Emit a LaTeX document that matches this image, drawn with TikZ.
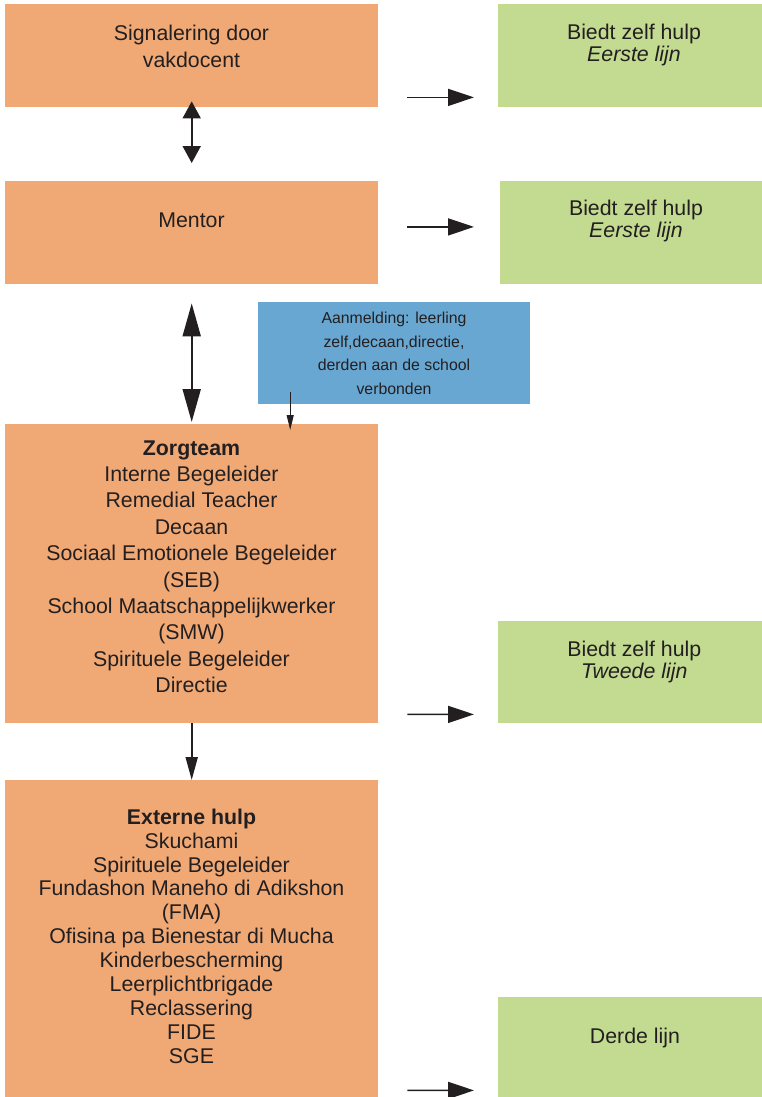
\documentclass[tikz,border=0pt]{standalone}
\usepackage{fontspec}
\setmainfont{Liberation Sans}
\usetikzlibrary{arrows.meta}
\definecolor{zorgoranje}{RGB}{240,169,117}
\definecolor{hulpgroen}{RGB}{195,219,145}
\definecolor{meldblauw}{RGB}{105,167,211}
\definecolor{tekst}{RGB}{35,31,32}

\begin{document}
\begin{tikzpicture}[x=1bp,y=-1bp,
  obox/.style={fill=zorgoranje,inner sep=0,anchor=north west},
  gbox/.style={fill=hulpgroen,inner sep=0,anchor=north west},
  bbox/.style={fill=meldblauw,inner sep=0,anchor=north west},
  txt/.style={text=tekst,inner sep=0,align=center,anchor=base},
  harrow/.style={draw=tekst,line width=1.6bp,-{Triangle[length=26bp,width=17bp]}},
  varrow/.style={draw=tekst,line width=2bp,-{Triangle[length=23bp,width=12bp]}},
  sarrow/.style={draw=tekst,line width=1bp,-{Triangle[length=15bp,width=7bp]}}]
\useasboundingbox (0,0) rectangle (762,1097);

% eerste lijn
\node[obox,minimum width=373bp,minimum height=103bp] (sig) at (5,4) {};
\node[gbox,minimum width=264bp,minimum height=103bp] (hulp1) at (498,4) {};
\node[txt,font=\fontsize{21.4}{27}\selectfont] (sigtxt) at (191.5,67.7) {Signalering door\\vakdocent};
\node[txt,font=\fontsize{21.4}{22}\selectfont] (hulp1txt) at (634,61) {Biedt zelf hulp\\\textit{Eerste lijn}};
\draw[harrow] ([xshift=29bp,yshift=10bp]sig.south east) -- ([xshift=-24bp,yshift=10bp]hulp1.south west);

\node[obox,minimum width=373bp,minimum height=103bp] (mentor) at (5,181) {};
\node[gbox,minimum width=262bp,minimum height=103bp] (hulp2) at (500,181) {};
\node[txt,font=\fontsize{21.4}{27}\selectfont] (mentortxt) at (191.5,227.7) {Mentor};
\node[txt,font=\fontsize{21.4}{22}\selectfont] (hulp2txt) at (636,237.5) {Biedt zelf hulp\\\textit{Eerste lijn}};
\draw[harrow] ([xshift=29bp,yshift=57.5bp]mentor.south east) -- ([xshift=-26bp,yshift=57.5bp]hulp2.south west);
\draw[draw=tekst,line width=2bp,{Triangle[length=17bp,width=18bp]}-{Triangle[length=17bp,width=18bp]}]
  ([yshift=6bp]sig.south) -- ([yshift=18bp]mentor.north);

% aanmelding
\node[bbox,minimum width=272bp,minimum height=102bp] (aanm) at (258,302) {};
\node[txt,font=\fontsize{15.9}{23.6}\selectfont] (aanmtxt) at (394,394.1) {Aanmelding: leerling\\zelf,decaan,directie,\\derden aan de school\\verbonden};

% tweede lijn
\node[obox,minimum width=373bp,minimum height=299bp] (zorg) at (5,424) {};
\node[gbox,minimum width=264bp,minimum height=102bp] (hulp3) at (498,621) {};
\node[txt,font=\fontsize{21.4}{26.5}\selectfont] (zorgtxt) at (191.5,692.7) {\textbf{Zorgteam}\\Interne Begeleider\\Remedial Teacher\\Decaan\\Sociaal Emotionele Begeleider\\(SEB)\\School Maatschappelijkwerker\\(SMW)\\Spirituele Begeleider\\Directie};
\node[txt,font=\fontsize{21.4}{21.6}\selectfont] (hulp3txt) at (634.3,678.3) {Biedt zelf hulp\\\textit{Tweede lijn}};
\draw[harrow] ([xshift=29bp,yshift=9bp]zorg.south east) -- ([xshift=-24bp,yshift=9bp]hulp3.south west);
\draw[draw=tekst,line width=2bp,{Triangle[length=33bp,width=18bp]}-{Triangle[length=33bp,width=18bp]}]
  ([yshift=-19bp]mentor.south) -- ([yshift=2bp]zorg.north);
\draw[sarrow] ([xshift=-104bp,yshift=12bp]aanm.south) coordinate (meld) -- ([yshift=-6bp]meld |- zorg.north);

% derde lijn
\node[obox,minimum width=373bp,minimum height=317bp] (ext) at (5,780) {};
\node[gbox,minimum width=264bp,minimum height=100bp] (hulp4) at (498,997) {};
\node[txt,font=\fontsize{21.4}{24}\selectfont] (exttxt) at (191.5,1063.3) {\textbf{Externe hulp}\\Skuchami\\Spirituele Begeleider\\Fundashon Maneho di Adikshon\\(FMA)\\Ofisina pa Bienestar di Mucha\\Kinderbescherming\\Leerplichtbrigade\\Reclassering\\FIDE\\SGE};
\node[txt,font=\fontsize{21.4}{24}\selectfont] (hulp4txt) at (635,1043) {Derde lijn};
\draw[harrow] ([xshift=29bp,yshift=7bp]ext.south east) -- ([xshift=-24bp,yshift=7bp]hulp4.south west);
\draw[varrow] (zorg.south) -- (ext.north);
\end{tikzpicture}
\end{document}
